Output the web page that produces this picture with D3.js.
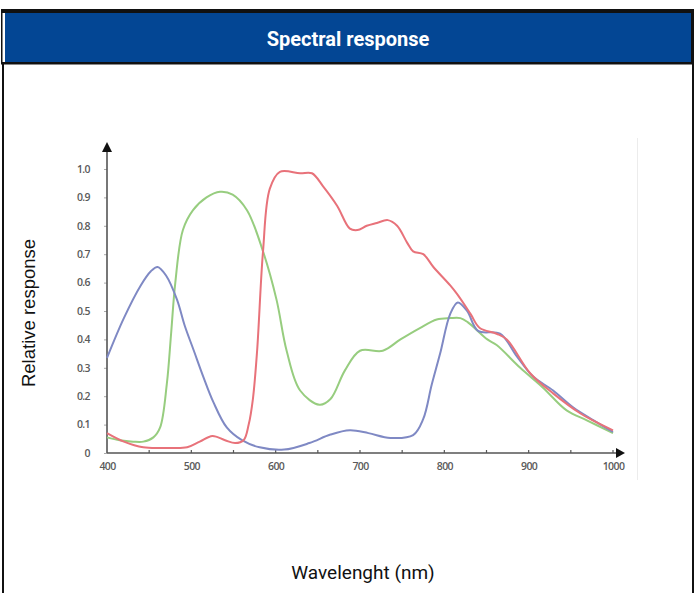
<!DOCTYPE html>
<html><head><meta charset="utf-8">
<script src="https://cdn.jsdelivr.net/npm/d3@7"></script>
<style>html,body{margin:0;padding:0;background:#fff;}svg{display:block;}</style>
</head><body>
<svg id="c" width="696" height="593"></svg>
<script>
const title = "Spectral response";
const xTitle = "Wavelenght (nm)";
const yTitle = "Relative response";
const xTicks = [400, 500, 600, 700, 800, 900, 1000];
const xMinorTicks = [450, 550, 650, 750, 850, 950];
const yTicks = [0, 0.1, 0.2, 0.3, 0.4, 0.5, 0.6, 0.7, 0.8, 0.9, 1.0];

const blueNm  = [400, 420, 440, 452, 460, 470, 483, 492, 503, 514, 526, 542, 560, 581, 610, 640, 665, 688, 710, 736, 763, 775, 785, 795, 807, 816, 827, 840, 866, 886, 905, 929, 953, 977, 1000];
const blueVal = [0.335, 0.475, 0.59, 0.64, 0.655, 0.625, 0.54, 0.45, 0.36, 0.27, 0.18, 0.09, 0.045, 0.02, 0.012, 0.035, 0.065, 0.08, 0.07, 0.053, 0.063, 0.12, 0.24, 0.35, 0.49, 0.53, 0.50, 0.43, 0.42, 0.34, 0.27, 0.22, 0.16, 0.115, 0.074];

const redNm  = [400, 420, 443, 470, 495, 510, 525, 540, 552, 562, 568, 573, 578, 585, 593, 605, 629, 643, 656, 673, 688, 697, 708, 720, 733, 744, 756, 763, 775, 787, 807, 815, 831, 842, 862, 874, 902, 929, 961, 976, 1000];
const redVal = [0.07, 0.04, 0.02, 0.018, 0.02, 0.04, 0.06, 0.045, 0.035, 0.045, 0.10, 0.19, 0.36, 0.71, 0.93, 0.99, 0.985, 0.985, 0.94, 0.87, 0.79, 0.785, 0.80, 0.81, 0.82, 0.80, 0.74, 0.71, 0.70, 0.655, 0.59, 0.56, 0.49, 0.44, 0.42, 0.40, 0.28, 0.21, 0.14, 0.115, 0.08];

const greenNm  = [400, 415, 431, 443, 455, 463, 471, 476, 481, 490, 502, 518, 534, 549, 566, 585, 601, 613, 629, 652, 665, 682, 700, 727, 748, 771, 791, 807, 819, 828, 851, 862, 890, 917, 945, 969, 1000];
const greenVal = [0.055, 0.045, 0.04, 0.04, 0.055, 0.09, 0.245, 0.42, 0.60, 0.785, 0.855, 0.90, 0.92, 0.91, 0.855, 0.71, 0.54, 0.36, 0.22, 0.17, 0.19, 0.29, 0.36, 0.36, 0.40, 0.44, 0.47, 0.475, 0.475, 0.46, 0.40, 0.38, 0.30, 0.23, 0.15, 0.115, 0.07];

const series = [
  {name: "green", nm: greenNm, val: greenVal, color: "#97cd7f"},
  {name: "blue", nm: blueNm, val: blueVal, color: "#7f89c4"},
  {name: "red", nm: redNm, val: redVal, color: "#e8727a"}
];

const svg = d3.select("#c");
const W = 696, H = 593;

// frame / header
svg.append("rect").attr("x", 1).attr("y", 9).attr("width", 693).attr("height", 4).attr("fill", "#111");
svg.append("rect").attr("x", 1).attr("y", 9).attr("width", 1.5).attr("height", 55).attr("fill", "#111");
svg.append("rect").attr("x", 5).attr("y", 13).attr("width", 686).attr("height", 49).attr("fill", "#034694");
svg.append("rect").attr("x", 691).attr("y", 9).attr("width", 3).attr("height", 55).attr("fill", "#111");
svg.append("rect").attr("x", 1).attr("y", 62).attr("width", 693).attr("height", 2).attr("fill", "#111");
svg.append("rect").attr("x", 1).attr("y", 64).attr("width", 693).attr("height", 1).attr("fill", "#888");
svg.append("rect").attr("x", 2).attr("y", 64).attr("width", 2).attr("height", H - 64).attr("fill", "#111");
svg.append("rect").attr("x", 692).attr("y", 64).attr("width", 2).attr("height", H - 64).attr("fill", "#111");

svg.append("text").attr("x", 348).attr("y", 46).attr("text-anchor", "middle")
  .attr("font-family", "Roboto, sans-serif").attr("font-weight", 700).attr("font-size", 20)
  .attr("fill", "#fff").text(title);

// faint image edge
svg.append("line").attr("x1", 637.5).attr("x2", 637.5).attr("y1", 138).attr("y2", 480)
  .attr("stroke", "#ececec").attr("stroke-width", 1);

const x = d3.scaleLinear().domain([400, 1000]).range([107, 613]);
const y = d3.scaleLinear().domain([0, 1]).range([453, 169]);

const axisColor = "#555";
const labelFont = "'Open Sans', sans-serif";

// x axis
const xAxis = svg.append("g").attr("transform", `translate(0,${y(0)})`)
  .call(d3.axisBottom(x).tickValues(xTicks).tickSize(0).tickPadding(10).tickFormat(d3.format("d")));
xAxis.select(".domain").remove();
xAxis.selectAll("text").attr("font-family", labelFont).attr("font-size", 10.5).attr("font-weight", 600)
  .attr("fill", "#5a5a5a").attr("letter-spacing", -0.6);
svg.append("line").attr("x1", x(400)).attr("x2", 616).attr("y1", y(0)).attr("y2", y(0))
  .attr("stroke", axisColor).attr("stroke-width", 1.6);
svg.append("path").attr("d", `M616,${y(0)-5}L625,${y(0)}L616,${y(0)+5}Z`).attr("fill", "#111");
svg.selectAll(".xminor").data(xTicks.slice(1).concat(xMinorTicks)).enter().append("line")
  .attr("x1", d => x(d)).attr("x2", d => x(d)).attr("y1", y(0) - 3).attr("y2", y(0))
  .attr("stroke", axisColor).attr("stroke-width", 1.2);

// y axis
const yAxis = svg.append("g").attr("transform", `translate(${x(400)},0)`)
  .call(d3.axisLeft(y).tickValues(yTicks).tickSize(3).tickPadding(14)
    .tickFormat(d => d === 0 ? "0" : d3.format(".1f")(d)));
yAxis.select(".domain").remove();
yAxis.selectAll("line").attr("stroke", "#aaa");
yAxis.selectAll("text").attr("font-family", labelFont).attr("font-size", 10.5).attr("font-weight", 600)
  .attr("fill", "#5a5a5a").attr("letter-spacing", -0.6);
svg.append("line").attr("x1", x(400)).attr("x2", x(400)).attr("y1", y(0)).attr("y2", 150)
  .attr("stroke", axisColor).attr("stroke-width", 1.6);
svg.append("path").attr("d", `M${x(400)-5},152L${x(400)},142L${x(400)+5},152Z`).attr("fill", "#111");

// curves
const line = d3.line().x(d => x(d[0])).y(d => y(d[1])).curve(d3.curveCatmullRom.alpha(0.5));
series.forEach(s => {
  const pts = s.nm.map((n, i) => [n, s.val[i]]);
  svg.append("path").attr("d", line(pts)).attr("fill", "none")
    .attr("stroke", s.color).attr("stroke-width", 2).attr("stroke-linejoin", "round");
});

// axis titles
svg.append("text").attr("x", 363).attr("y", 579).attr("text-anchor", "middle")
  .attr("font-family", "Roboto, sans-serif").attr("font-size", 19).attr("fill", "#111").text(xTitle);
svg.append("text").attr("transform", "translate(35,313) rotate(-90)").attr("text-anchor", "middle")
  .attr("font-family", "'Liberation Sans', Arial, sans-serif").attr("font-size", 18.5).attr("fill", "#111").text(yTitle);
</script>
</body></html>
